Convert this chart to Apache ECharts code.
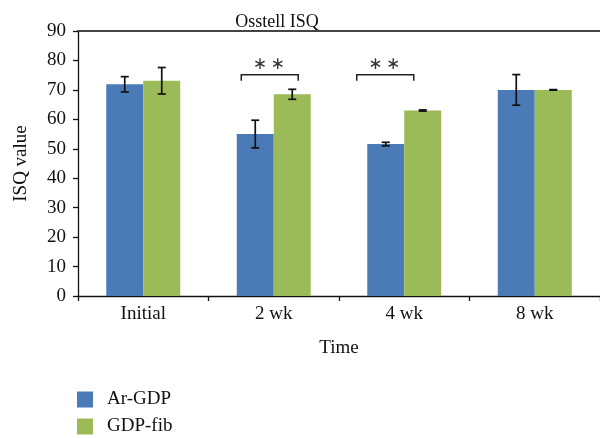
<!DOCTYPE html>
<html>
<head>
<meta charset="utf-8">
<script src="https://cdn.jsdelivr.net/npm/echarts@6/dist/echarts.min.js"></script>
<style>
  html, body { margin: 0; padding: 0; background: #fff; }
  #chart { width: 600px; height: 438px; }
</style>
</head>
<body>
<div id="chart"></div>
<script>
// Osstell ISQ stability by time point
const categories = ['Initial', '2 wk', '4 wk', '8 wk'];
const seriesNames = ['Ar-GDP', 'GDP-fib'];
const arGdp = [71.9, 55.0, 51.6, 70.0];
const arGdpErr = [2.6, 4.7, 0.6, 5.2];
const gdpFib = [73.1, 68.5, 63.0, 70.0];
const gdpFibErr = [4.5, 1.7, 0.2, 0.1];
const yTicks = [0, 10, 20, 30, 40, 50, 60, 70, 80, 90];
// significance brackets (category index, value of bracket top, label)
const sigCats = [1, 2];
const sigLevel = [75.1, 75.1];
const sigLabel = ['\u2217\u2009\u2217', '\u2217\u2009\u2217'];

const FONT = 'Liberation Serif';
const BAR_W = 37;
// horizontal placement of each bracket relative to its category centre (px)
const bracketShift = [-4, -19];
const bracketHalf = 28.5;

const chart = echarts.init(document.getElementById('chart'));

function errorSeries(name, means, errs, offset) {
  return {
    type: 'custom',
    name: name + ' SD',
    xAxisIndex: 0,
    yAxisIndex: 0,
    silent: true,
    z: 5,
    data: means.map((m, i) => [i, m, errs[i]]),
    renderItem: function (params, api) {
      const c = api.value(0), m = api.value(1), e = api.value(2);
      const hi = api.coord([c, m + e]);
      const lo = api.coord([c, m - e]);
      const x = hi[0] + offset;
      const cap = 4;
      const st = { stroke: '#111', lineWidth: 1.7 };
      return {
        type: 'group',
        children: [
          { type: 'line', shape: { x1: x, y1: hi[1], x2: x, y2: lo[1] }, style: st },
          { type: 'line', shape: { x1: x - cap, y1: hi[1], x2: x + cap, y2: hi[1] }, style: st },
          { type: 'line', shape: { x1: x - cap, y1: lo[1], x2: x + cap, y2: lo[1] }, style: st }
        ]
      };
    }
  };
}

const bracketSeries = {
  type: 'custom',
  name: 'significance',
  silent: true,
  z: 6,
  data: sigCats.map((c, i) => [c, sigLevel[i], i]),
  renderItem: function (params, api) {
    const c = api.value(0), v = api.value(1), k = api.value(2);
    const p = api.coord([c, v]);
    const cx = p[0] + bracketShift[k];
    const y = p[1];
    const leg = 6;
    return {
      type: 'group',
      children: [
        {
          type: 'polyline',
          shape: { points: [[cx - bracketHalf, y + leg], [cx - bracketHalf, y], [cx + bracketHalf, y], [cx + bracketHalf, y + leg]] },
          style: { stroke: '#222', lineWidth: 1.5, fill: null }
        },
        {
          type: 'text',
          style: {
            text: sigLabel[k], x: cx - 1, y: y - 10,
            align: 'center', verticalAlign: 'middle',
            font: '17px "DejaVu Sans"', fill: '#333'
          }
        }
      ]
    };
  }
};

function legendRow(name, top) {
  return {
    left: 77,
    top: top,
    padding: 0,
    itemWidth: 16,
    itemHeight: 16,
    icon: 'rect',
    data: [name],
    textStyle: { fontFamily: FONT, fontSize: 19, color: '#111', padding: [0, 0, 0, 9] }
  };
}

chart.setOption({
  animation: false,
  backgroundColor: '#ffffff',
  title: {
    text: 'Osstell ISQ',
    left: 272,
    top: 8,
    textAlign: 'center',
    textStyle: { fontFamily: FONT, fontSize: 18, fontWeight: 'normal', color: '#111' }
  },
  legend: [legendRow(seriesNames[0], 390), legendRow(seriesNames[1], 417)],
  grid: { left: 78, top: 31, width: 524, height: 265 },
  xAxis: [
    {
      type: 'category',
      data: categories,
      name: 'Time',
      nameLocation: 'middle',
      nameGap: 43,
      nameTextStyle: { fontFamily: FONT, fontSize: 19, color: '#111' },
      axisLine: { lineStyle: { color: '#111', width: 1.3 } },
      axisTick: { show: true, alignWithLabel: false, length: 5, lineStyle: { color: '#111', width: 1.3 } },
      axisLabel: { fontFamily: FONT, fontSize: 19, color: '#111', margin: 9 }
    },
    {
      type: 'category',
      data: categories,
      position: 'top',
      axisLine: { lineStyle: { color: '#444', width: 2 } },
      axisTick: { show: false },
      axisLabel: { show: false }
    }
  ],
  yAxis: {
    type: 'value',
    min: yTicks[0],
    max: yTicks[yTicks.length - 1],
    interval: 10,
    name: 'ISQ value',
    nameLocation: 'middle',
    nameGap: 47,
    nameTextStyle: { fontFamily: FONT, fontSize: 19, color: '#111' },
    axisLine: { show: true, lineStyle: { color: '#111', width: 1.3 } },
    axisTick: { show: true, length: 5, lineStyle: { color: '#111', width: 1.3 } },
    axisLabel: { fontFamily: FONT, fontSize: 19, color: '#111', margin: 12 },
    splitLine: { show: false }
  },
  series: [
    {
      name: seriesNames[0],
      type: 'bar',
      data: arGdp,
      barWidth: BAR_W,
      barGap: '0%',
      itemStyle: { color: '#4a7bb6' }
    },
    {
      name: seriesNames[1],
      type: 'bar',
      data: gdpFib,
      barWidth: BAR_W,
      barGap: '0%',
      itemStyle: { color: '#9bbb59' }
    },
    errorSeries(seriesNames[0], arGdp, arGdpErr, -BAR_W / 2),
    errorSeries(seriesNames[1], gdpFib, gdpFibErr, BAR_W / 2),
    bracketSeries
  ]
});
</script>
</body>
</html>
